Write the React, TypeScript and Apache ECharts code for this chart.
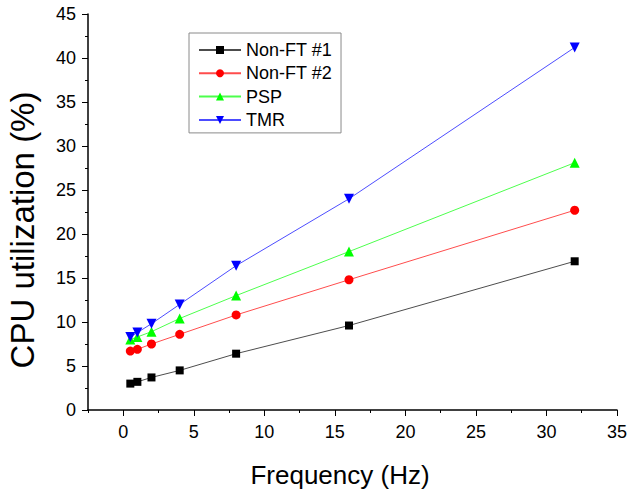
import React, { useEffect, useRef } from "react";
import * as echarts from "echarts";

const frequencies = [0.5, 1, 2, 4, 8, 16, 32];
const nonFt1 = [3.0, 3.2, 3.7, 4.5, 6.4, 9.6, 16.9];
const nonFt2 = [6.7, 6.9, 7.5, 8.6, 10.8, 14.8, 22.7];
const psp = [8.0, 8.3, 8.9, 10.4, 13.0, 18.0, 28.1];
const tmr = [8.3, 8.8, 9.8, 12.0, 16.4, 24.0, 41.2];

const xMajorTicks = [0, 5, 10, 15, 20, 25, 30, 35];
const xMinorTicks = [-2.5, 2.5, 7.5, 12.5, 17.5, 22.5, 27.5, 32.5];

const xTitle = "Frequency (Hz)";
const yTitle = "CPU utilization (%)";

const seriesDefs = [
  { name: "Non-FT #1", data: nonFt1, color: "#000000", symbol: "rect", size: 8, rotate: 0 },
  { name: "Non-FT #2", data: nonFt2, color: "#ff0000", symbol: "circle", size: 9, rotate: 0 },
  { name: "PSP", data: psp, color: "#00ff00", symbol: "triangle", size: 10, rotate: 0 },
  { name: "TMR", data: tmr, color: "#0000ff", symbol: "triangle", size: 10, rotate: 180 },
];

export default function App() {
  const ref = useRef<HTMLDivElement>(null);
  useEffect(() => {
    if (!ref.current) return;
    const chart = echarts.init(ref.current, null, { renderer: "svg" });
    const font = "Liberation Sans, Arial, sans-serif";
    chart.setOption({
      animation: false,
      backgroundColor: "#ffffff",
      textStyle: { fontFamily: font },
      grid: { left: 88, right: 15, top: 14, bottom: 85, containLabel: false, outerBoundsMode: "none" },
      graphic: [
        {
          type: "text",
          x: 340,
          y: 475,
          style: {
            text: xTitle,
            fontSize: 26,
            fontFamily: font,
            fill: "#000",
            align: "center",
            verticalAlign: "middle",
          },
        },
        {
          type: "text",
          x: 22,
          y: 230,
          rotation: Math.PI / 2,
          style: {
            text: yTitle,
            fontSize: 33,
            fontFamily: font,
            fill: "#000",
            align: "center",
            verticalAlign: "middle",
          },
        },
      ],
      legend: {
        left: 189,
        top: 33,
        orient: "vertical",
        itemWidth: 42,
        itemHeight: 10,
        itemGap: 5.3,
        padding: [8, 9, 4, 9],
        borderColor: "#8a8a8a",
        borderWidth: 1,
        textStyle: { fontSize: 18, color: "#000", fontFamily: font },
        data: seriesDefs.map((s) => s.name),
      },
      xAxis: [
        {
          type: "value",
          min: -2.5,
          max: 35,
          axisLine: { onZero: false, lineStyle: { color: "#000", width: 1.5 } },
          axisTick: { show: true, customValues: xMajorTicks, length: 6, lineStyle: { color: "#000" } },
          axisLabel: { customValues: xMajorTicks, fontSize: 18, color: "#000", margin: 13, fontFamily: font },
          splitLine: { show: false },
        },
        {
          type: "value",
          min: -2.5,
          max: 35,
          position: "bottom",
          axisLine: { show: false, onZero: false },
          axisTick: { show: true, customValues: xMinorTicks, length: 3, lineStyle: { color: "#000" } },
          axisLabel: { show: false },
          splitLine: { show: false },
        },
      ],
      yAxis: {
        type: "value",
        min: 0,
        max: 45,
        interval: 5,
        axisLine: { show: true, onZero: false, lineStyle: { color: "#000", width: 1.5 } },
        axisTick: { show: true, length: 6, lineStyle: { color: "#000" } },
        minorTick: { show: true, splitNumber: 2, length: 3, lineStyle: { color: "#000" } },
        axisLabel: { fontSize: 18, color: "#000", margin: 12, fontFamily: font },
        splitLine: { show: false },
      },
      series: seriesDefs.map((s) => ({
        name: s.name,
        type: "line",
        xAxisIndex: 0,
        data: frequencies.map((f, i) => [f, s.data[i]]),
        symbol: s.symbol,
        symbolSize: s.size,
        symbolRotate: s.rotate,
        showAllSymbol: true,
        lineStyle: { color: s.color, width: 1, opacity: 0.7 },
        itemStyle: { color: s.color },
        emphasis: { disabled: true },
      })),
    });
    return () => chart.dispose();
  }, []);
  return (
    <div
      ref={ref}
      style={{ position: "fixed", left: 0, top: 0, width: 632, height: 495 }}
    />
  );
}
